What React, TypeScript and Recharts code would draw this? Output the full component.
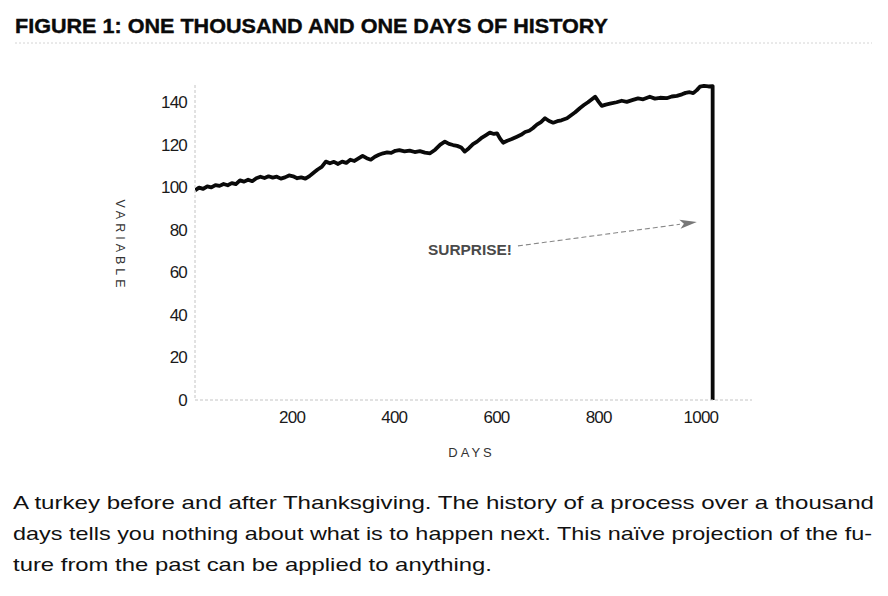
import React from 'react';
import { LineChart, Line, XAxis, YAxis, ReferenceLine } from 'recharts';

const days: number[] = [
  10, 18, 26, 34, 42, 50, 58, 66, 74, 82, 90, 98, 106, 114, 122, 130, 138, 146, 154, 162,
  170, 178, 186, 194, 202, 210, 218, 226, 234, 242, 250, 258, 266, 274, 282, 290, 298, 306, 314, 322,
  330, 338, 346, 354, 362, 370, 378, 386, 394, 402, 410, 420, 430, 440, 450, 460, 470, 480, 490, 499,
  507, 515, 523, 531, 538, 546, 554, 562, 570, 578, 587, 595, 601, 607, 613, 621, 630, 640, 648, 656,
  664, 671, 679, 687, 695, 703, 711, 719, 727, 738, 746, 754, 763, 771, 779, 786, 793, 800, 806, 814,
  822, 835, 845, 855, 867, 877, 887, 900, 910, 920, 933, 943, 953, 963, 970, 978, 985, 992, 998, 1006,
  1015, 1023, 1023,
];
const values: number[] = [
  98.5, 99.8, 99.2, 100.4, 99.9, 101.0, 100.6, 101.5, 100.9, 101.9, 101.4, 103.2, 102.6, 103.5, 102.8, 104.2, 104.9, 104.3, 105.1, 104.5,
  104.9, 104.0, 104.6, 105.5, 105.1, 104.2, 104.6, 104.0, 105.2, 106.8, 108.3, 109.5, 112.0, 111.2, 111.9, 110.9, 112.0, 111.4, 112.9, 112.3,
  113.5, 114.7, 113.6, 112.9, 114.3, 115.2, 115.9, 116.3, 116.1, 117.1, 117.4, 116.8, 117.2, 116.5, 116.9, 116.2, 115.9, 117.6, 120.0, 121.4,
  120.3, 119.8, 119.4, 118.6, 116.7, 118.3, 120.2, 121.4, 123.0, 124.2, 125.6, 125.0, 125.3, 122.8, 120.9, 121.8, 122.6, 123.7, 124.6, 125.9,
  126.5, 127.7, 129.4, 130.6, 132.4, 131.1, 130.3, 131.0, 131.4, 132.4, 133.8, 135.2, 137.1, 138.6, 139.9, 141.2, 142.5, 140.1, 138.2, 138.8,
  139.2, 139.9, 140.6, 140.1, 141.0, 141.7, 141.3, 142.5, 141.6, 142.0, 141.8, 142.6, 142.9, 143.6, 144.3, 144.6, 144.2, 145.6, 147.2, 147.6,
  147.3, 147.5, 0,
];
const xTicks: number[] = [200, 400, 600, 800, 1000];
const yTicks: number[] = [0, 20, 40, 60, 80, 100, 120, 140];
const arrowFrom = { x: 642, y: 72.4 };
const arrowTo = { x: 992, y: 83.6 };

const titleText = 'FIGURE 1: ONE THOUSAND AND ONE DAYS OF HISTORY';
const captionLines: string[] = [
  'A turkey before and after Thanksgiving. The history of a process over a thousand',
  'days tells you nothing about what is to happen next. This naïve projection of the fu-',
  'ture from the past can be applied to anything.',
];

const data = days.map((d, i) => ({ day: d, v: values[i] }));

const FONT = "'Liberation Sans', Arial, sans-serif";

const ArrowShape = (props: any) => {
  const { x1, y1, x2, y2 } = props;
  if ([x1, y1, x2, y2].some((n) => typeof n !== 'number' || isNaN(n))) return null;
  const ang = Math.atan2(y2 - y1, x2 - x1);
  const len = 17;
  const hw = 4.5;
  const bx = x2 - len * Math.cos(ang);
  const by = y2 - len * Math.sin(ang);
  const px = -Math.sin(ang) * hw;
  const py = Math.cos(ang) * hw;
  return (
    <g>
      <line x1={x1} y1={y1} x2={bx} y2={by} stroke="#888" strokeWidth={1.1} strokeDasharray="5 3" />
      <polygon points={`${x2},${y2} ${bx + px},${by + py} ${bx + 4 * Math.cos(ang)},${by + 4 * Math.sin(ang)} ${bx - px},${by - py}`} fill="#777" />
      <text x={x1 - 6} y={y1 + 9} textAnchor="end" fontFamily={FONT} fontWeight="bold" fontSize={15} fill="#4a4a4a" textLength={84} lengthAdjust="spacingAndGlyphs">
        SURPRISE!
      </text>
    </g>
  );
};

export default function App() {
  return (
    <div style={{ position: 'relative', width: 888, height: 596, background: '#fff', overflow: 'hidden' }}>
      <style>{'body{margin:0;}'}</style>
      <svg width={888} height={60} style={{ position: 'absolute', left: 0, top: 0 }}>
        <text x={15} y={33} fontFamily={FONT} fontWeight="bold" fontSize={21} fill="#0a0a0a" stroke="#0a0a0a" strokeWidth={0.4} textLength={593} lengthAdjust="spacingAndGlyphs">
          {titleText}
        </text>
        <line x1={15} y1={43} x2={872} y2={43} stroke="#d4d4d4" strokeWidth={1} strokeDasharray="2 2" />
      </svg>
      <div style={{ position: 'absolute', left: 0, top: 0 }}>
        <LineChart width={888} height={470} data={data} margin={{ top: 85, right: 136, left: 135, bottom: 10 }}>
          <XAxis
            dataKey="day"
            type="number"
            domain={[10, 1100]}
            ticks={xTicks}
            allowDataOverflow
            height={60}
            tickLine={false}
            tickMargin={5}
            axisLine={{ stroke: '#c4c4c4', strokeDasharray: '3 2' }}
            tick={{ fill: '#1a1a1a', fontSize: 17, fontFamily: FONT, letterSpacing: -0.8 }}
            label={{
              content: (p: any) => {
                const vb = p.viewBox || {};
                return (
                  <text x={vb.x + vb.width / 2 - 2} y={vb.y + 57} textAnchor="middle" fontFamily={FONT} fontSize={13} fill="#333" letterSpacing={3}>
                    DAYS
                  </text>
                );
              },
            }}
          />
          <YAxis
            type="number"
            domain={[0, 148]}
            ticks={yTicks}
            width={60}
            tickLine={false}
            axisLine={{ stroke: '#c4c4c4', strokeDasharray: '3 2' }}
            tick={{ fill: '#1a1a1a', fontSize: 17, fontFamily: FONT, letterSpacing: -0.8 }}
            label={{
              content: (p: any) => {
                const vb = p.viewBox || {};
                const cx = vb.x - 15;
                const cy = vb.y + vb.height / 2 + 3;
                return (
                  <text x={cx} y={cy} transform={`rotate(90 ${cx} ${cy})`} textAnchor="middle" dominantBaseline="central" fontFamily={FONT} fontSize={12.5} fill="#333" letterSpacing={4}>
                    VARIABLE
                  </text>
                );
              },
            }}
          />
          <ReferenceLine segment={[arrowFrom, arrowTo]} ifOverflow="visible" shape={ArrowShape} />
          <Line
            type="linear"
            dataKey="v"
            stroke="#0a0a0a"
            strokeWidth={3.8}
            dot={false}
            activeDot={false}
            strokeLinejoin="round"
            isAnimationActive={false}
          />
        </LineChart>
      </div>
      <svg width={888} height={126} style={{ position: 'absolute', left: 0, top: 470 }}>
        <text x={13} y={39} fontFamily={FONT} fontSize={19} fill="#111" textLength={861} lengthAdjust="spacingAndGlyphs">
          {captionLines[0]}
        </text>
        <text x={13} y={70} fontFamily={FONT} fontSize={19} fill="#111" textLength={859} lengthAdjust="spacingAndGlyphs">
          {captionLines[1]}
        </text>
        <text x={13} y={101} fontFamily={FONT} fontSize={19} fill="#111" textLength={479} lengthAdjust="spacingAndGlyphs">
          {captionLines[2]}
        </text>
      </svg>
    </div>
  );
}
